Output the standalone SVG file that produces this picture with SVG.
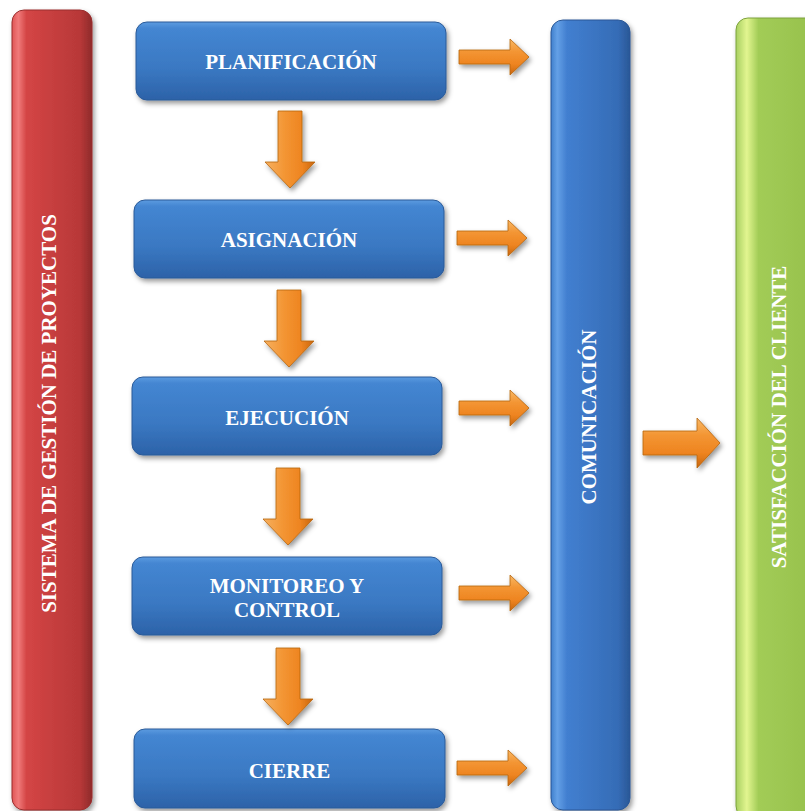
<svg xmlns="http://www.w3.org/2000/svg" width="805" height="811" viewBox="0 0 805 811">
<style>
.t{font-family:"Liberation Serif","Times New Roman",serif;font-weight:bold;font-size:21px;fill:#fff;text-anchor:middle}
.box{fill:url(#gBox);stroke:#2a5a98;stroke-width:1}
.arr{fill:url(#gArrH);stroke:#b5640f;stroke-width:0.8}
.arrd{fill:url(#gArrV);stroke:#b5640f;stroke-width:0.8}
</style>
<defs>
<filter id="sh" x="-20%" y="-20%" width="140%" height="140%">
<feDropShadow dx="2" dy="3" stdDeviation="2.5" flood-color="#000" flood-opacity="0.4"/>
</filter>
<linearGradient id="gBox" x1="0" y1="0" x2="0" y2="1">
<stop offset="0" stop-color="#5c9be0"/>
<stop offset="0.08" stop-color="#4486d2"/>
<stop offset="0.6" stop-color="#3a78c2"/>
<stop offset="1" stop-color="#2c62a8"/>
</linearGradient>
<linearGradient id="gRed" x1="0" y1="0" x2="1" y2="0">
<stop offset="0" stop-color="#e05656"/>
<stop offset="0.08" stop-color="#f07a7a"/>
<stop offset="0.18" stop-color="#d44545"/>
<stop offset="0.85" stop-color="#b83838"/>
<stop offset="1" stop-color="#8e2a2a"/>
</linearGradient>
<linearGradient id="gBlue" x1="0" y1="0" x2="1" y2="0">
<stop offset="0" stop-color="#3f7fcc"/>
<stop offset="0.08" stop-color="#64a0e6"/>
<stop offset="0.2" stop-color="#427fd0"/>
<stop offset="0.85" stop-color="#356cb6"/>
<stop offset="1" stop-color="#2a5796"/>
</linearGradient>
<linearGradient id="gGreen" x1="0" y1="0" x2="1" y2="0">
<stop offset="0" stop-color="#a8d060"/>
<stop offset="0.12" stop-color="#e2f590"/>
<stop offset="0.25" stop-color="#a2cc56"/>
<stop offset="0.8" stop-color="#98c24e"/>
<stop offset="1" stop-color="#8cb646"/>
</linearGradient>
<linearGradient id="gArrH" x1="0" y1="0" x2="0" y2="1">
<stop offset="0" stop-color="#f8b865"/>
<stop offset="0.35" stop-color="#f39533"/>
<stop offset="0.7" stop-color="#ee8420"/>
<stop offset="1" stop-color="#c8660e"/>
</linearGradient>
<linearGradient id="gArrV" x1="0" y1="0" x2="1" y2="0">
<stop offset="0" stop-color="#f6b060"/>
<stop offset="0.4" stop-color="#f39533"/>
<stop offset="0.75" stop-color="#ee8420"/>
<stop offset="1" stop-color="#c8660e"/>
</linearGradient>
<path id="ra" d="M0,-7 H51 V-18 L70,0 L51,18 V7 H0 Z"/>
<path id="da" d="M-12,0 H12 V51 H25 L0,77 L-25,51 H-12 Z"/>
</defs>
<rect width="805" height="811" fill="#fff"/>

<g id="sistema">
<rect x="12" y="10" width="80" height="800" rx="12" fill="url(#gRed)" stroke="#9a2f2f" stroke-width="1" filter="url(#sh)"/>
<text class="t" transform="translate(56,413.5) rotate(-90)">SISTEMA DE GESTIÓN DE PROYECTOS</text>
</g>

<g id="planificacion">
<rect class="box" x="136" y="22" width="310" height="78" rx="11" filter="url(#sh)"/>
<text class="t" x="291" y="69">PLANIFICACIÓN</text>
</g>
<g id="asignacion">
<rect class="box" x="134" y="200" width="310" height="78" rx="11" filter="url(#sh)"/>
<text class="t" x="289" y="247">ASIGNACIÓN</text>
</g>
<g id="ejecucion">
<rect class="box" x="132" y="377" width="310" height="78" rx="11" filter="url(#sh)"/>
<text class="t" x="287" y="425">EJECUCIÓN</text>
</g>
<g id="monitoreo">
<rect class="box" x="132" y="557" width="310" height="78" rx="11" filter="url(#sh)"/>
<text class="t" x="287" y="593">MONITOREO Y</text>
<text class="t" x="287" y="617">CONTROL</text>
</g>
<g id="cierre">
<rect class="box" x="134" y="729" width="311" height="79" rx="11" filter="url(#sh)"/>
<text class="t" x="289.5" y="778">CIERRE</text>
</g>

<g id="comunicacion">
<rect x="551" y="20" width="79" height="790" rx="12" fill="url(#gBlue)" stroke="#2a5796" stroke-width="1" filter="url(#sh)"/>
<text class="t" transform="translate(596,417) rotate(-90)">COMUNICACIÓN</text>
</g>

<g id="satisfaccion">
<rect x="736" y="18" width="90" height="800" rx="12" fill="url(#gGreen)" stroke="#7da23c" stroke-width="1" filter="url(#sh)"/>
<text class="t" transform="translate(786,417) rotate(-90)">SATISFACCIÓN DEL CLIENTE</text>
</g>

<g id="connectors" filter="url(#sh)">
<use href="#da" class="arrd" transform="translate(290,111)"/>
<use href="#da" class="arrd" transform="translate(289,290)"/>
<use href="#da" class="arrd" transform="translate(288,468)"/>
<use href="#da" class="arrd" transform="translate(288,648)"/>
<use href="#ra" class="arr" transform="translate(459,57)"/>
<use href="#ra" class="arr" transform="translate(457,238)"/>
<use href="#ra" class="arr" transform="translate(459,408)"/>
<use href="#ra" class="arr" transform="translate(459,593)"/>
<use href="#ra" class="arr" transform="translate(457,768)"/>
<path class="arr" d="M643,431 H697 V418 L720,443 L697,468 V455 H643 Z"/>
</g>
</svg>
